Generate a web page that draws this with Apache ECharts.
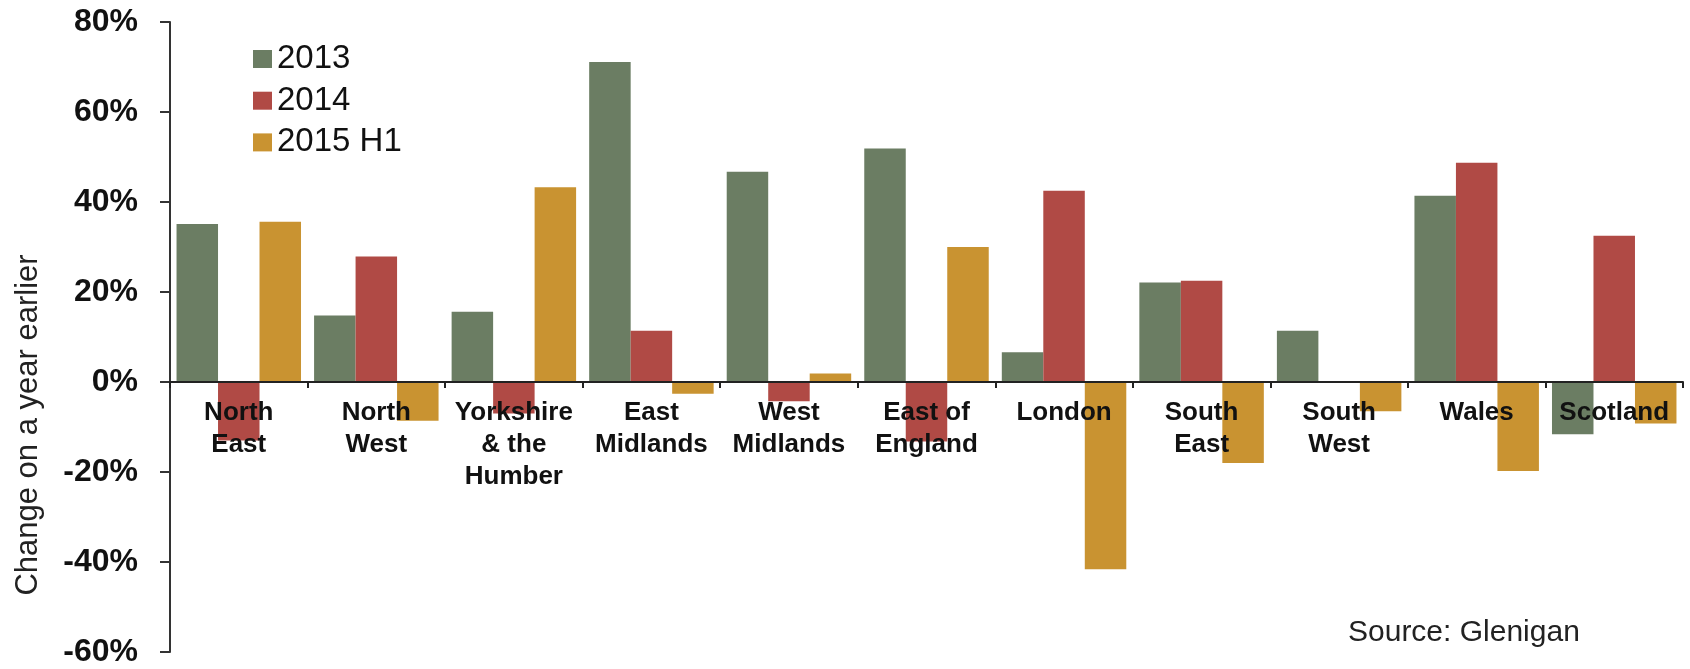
<!DOCTYPE html>
<html>
<head>
<meta charset="utf-8">
<script src="https://cdn.jsdelivr.net/npm/echarts@6/dist/echarts.min.js"></script>
<style>
html,body{margin:0;padding:0;background:#fff;}
#chart{width:1690px;height:669px;}
</style>
</head>
<body>
<div id="chart"></div>
<script>
var regions = ['North\nEast', 'North\nWest', 'Yorkshire\n& the\nHumber', 'East\nMidlands', 'West\nMidlands', 'East of\nEngland', 'London', 'South\nEast', 'South\nWest', 'Wales', 'Scotland'];
var seriesNames = ['2013', '2014', '2015 H1'];
var values2013 = [35.1, 14.8, 15.6, 71.1, 46.7, 51.9, 6.6, 22.1, 11.4, 41.4, -11.6];
var values2014 = [-13.0, 27.9, -7.0, 11.4, -4.3, -13.2, 42.5, 22.5, 0, 48.7, 32.5];
var values2015H1 = [35.6, -8.6, 43.3, -2.6, 1.9, 30.0, -41.6, -18.0, -6.5, -19.8, -9.2];
var yTicks = [-60, -40, -20, 0, 20, 40, 60, 80];
var colors = ['#6B7D63', '#B04A45', '#C99331'];

var chart = echarts.init(document.getElementById('chart'));
var font = 'Liberation Sans, Arial, sans-serif';
var gridTop = 22, gridBottom = 17, chartH = 669;
var yMin = yTicks[0], yMax = yTicks[yTicks.length - 1];
var plotH = chartH - gridTop - gridBottom;
// distance from grid bottom to the zero line, derived from the axis range
var zeroOffset = plotH * (0 - yMin) / (yMax - yMin);

function bar(name, data, color) {
  return {
    name: name, type: 'bar', data: data, barGap: '0%', barCategoryGap: '9.5%',
    itemStyle: { color: color }, z: 2
  };
}
chart.setOption({
  animation: false,
  backgroundColor: '#fff',
  textStyle: { fontFamily: font },
  grid: { left: 170, right: 7, top: gridTop, bottom: gridBottom, containLabel: false },
  legend: {
    orient: 'vertical', left: 248, top: 37.5,
    itemWidth: 19, itemHeight: 18, itemGap: 8.7,
    data: seriesNames,
    textStyle: { fontSize: 33, color: '#111', fontFamily: font, lineHeight: 33 },
    icon: 'rect'
  },
  xAxis: {
    type: 'category', data: regions, z: 10,
    offset: -zeroOffset,
    axisLine: { onZero: false, lineStyle: { color: '#222', width: 2 } },
    axisTick: { show: true, length: 6, lineStyle: { color: '#222', width: 2 } },
    axisLabel: { interval: 0, fontSize: 26, fontWeight: 'bold', color: '#111', lineHeight: 32, margin: 15, fontFamily: font },
    splitLine: { show: false }
  },
  yAxis: {
    type: 'value', min: yMin, max: yMax, interval: 20,
    axisLine: { show: true, lineStyle: { color: '#333', width: 2 } },
    axisTick: { show: true, length: 10, lineStyle: { color: '#333', width: 2 } },
    axisLabel: { formatter: '{value}%', fontSize: 32, fontWeight: 'bold', color: '#111', margin: 32, fontFamily: font },
    splitLine: { show: false }
  },
  graphic: [{
    type: 'text', x: 28, y: 425, rotation: Math.PI / 2,
    style: { text: 'Change on a year earlier', fontSize: 31, fill: '#222', fontFamily: font, align: 'center', verticalAlign: 'middle' }
  }, {
    type: 'text', x: 1348, y: 633,
    style: { text: 'Source: Glenigan', fontSize: 30, fill: '#222', fontFamily: font, align: 'left', verticalAlign: 'middle' }
  }],
  series: [
    bar(seriesNames[0], values2013, colors[0]),
    bar(seriesNames[1], values2014, colors[1]),
    bar(seriesNames[2], values2015H1, colors[2])
  ]
});
</script>
</body>
</html>
